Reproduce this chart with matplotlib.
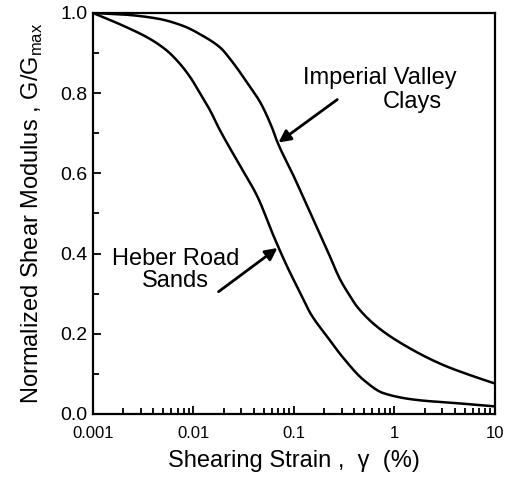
import matplotlib.pyplot as plt
import numpy as np
from matplotlib.ticker import LogLocator, FixedLocator, MultipleLocator

plt.rcParams['font.family'] = ['Liberation Sans', 'DejaVu Sans']

# curves (strain in %, G/Gmax)
clay_strain = [0.001, 0.00205, 0.00438, 0.00805, 0.0118, 0.0186, 0.0234, 0.0343, 0.0465,
               0.0608, 0.068, 0.0995, 0.146, 0.214, 0.289, 0.364, 0.424, 0.67, 1.33,
               3.07, 5.65, 10]
clay_ratio = [1.0, 0.996, 0.986, 0.967, 0.946, 0.913, 0.884, 0.826, 0.776,
              0.713, 0.680, 0.593, 0.501, 0.409, 0.335, 0.293, 0.268, 0.218, 0.168,
              0.122, 0.097, 0.076]

sand_strain = [0.001, 0.00205, 0.00377, 0.00551, 0.00747, 0.0094, 0.0118, 0.0148, 0.0179,
               0.0294, 0.0432, 0.063, 0.0855, 0.1205, 0.146, 0.214, 0.312, 0.493, 0.778,
               1.67, 4.16, 10]
sand_ratio = [1.0, 0.967, 0.934, 0.905, 0.871, 0.838, 0.797, 0.755, 0.713,
              0.617, 0.543, 0.443, 0.368, 0.293, 0.251, 0.193, 0.139, 0.085, 0.052,
              0.035, 0.027, 0.019]

x_ticks = [0.001, 0.01, 0.1, 1, 10]
x_ticklabels = ['0.001', '0.01', '0.1', '1', '10']
y_ticks = [0.0, 0.2, 0.4, 0.6, 0.8, 1.0]
y_ticklabels = ['0.0', '0.2', '0.4', '0.6', '0.8', '1.0']


def pchip(xs, ys, n=400):
    # monotone cubic through the read points, in log-strain
    x = np.log10(xs)
    y = np.asarray(ys, float)
    h = np.diff(x)
    d = np.diff(y) / h
    m = np.zeros_like(y)
    for k in range(1, len(y) - 1):
        if d[k - 1] * d[k] > 0:
            w1 = 2 * h[k] + h[k - 1]
            w2 = h[k] + 2 * h[k - 1]
            m[k] = (w1 + w2) / (w1 / d[k - 1] + w2 / d[k])
    m[0], m[-1] = d[0], d[-1]
    g = np.linspace(x[0], x[-1], n)
    i = np.clip(np.searchsorted(x, g) - 1, 0, len(h) - 1)
    t = (g - x[i]) / h[i]
    out = ((2 * t**3 - 3 * t**2 + 1) * y[i] + (t**3 - 2 * t**2 + t) * h[i] * m[i]
           + (-2 * t**3 + 3 * t**2) * y[i + 1] + (t**3 - t**2) * h[i] * m[i + 1])
    return 10 ** g, out


fig = plt.figure(figsize=(5.05, 4.8), dpi=100)
ax = fig.add_axes([0.184, 0.1375, 0.796, 0.8355])

cx, cy = pchip(clay_strain, clay_ratio)
sx, sy = pchip(sand_strain, sand_ratio)
ax.plot(cx, cy, color='black', lw=1.8)
ax.plot(sx, sy, color='black', lw=1.8)

ax.set_xscale('log')
ax.set_xlim(0.001, 10)
ax.set_ylim(0, 1.0)

ax.xaxis.set_major_locator(FixedLocator(x_ticks))
ax.set_xticklabels(x_ticklabels)
ax.xaxis.set_minor_locator(LogLocator(base=10, subs=np.arange(2, 10)))
ax.xaxis.set_minor_formatter(plt.NullFormatter())
ax.set_yticks(y_ticks)
ax.set_yticklabels(y_ticklabels)
ax.yaxis.set_minor_locator(MultipleLocator(0.1))

ax.tick_params(which='both', direction='in', top=False, right=False, width=1.3)
ax.tick_params(which='major', length=6)
ax.tick_params(which='minor', length=4)
ax.tick_params(axis='x', labelsize=12, pad=9)
ax.tick_params(axis='y', labelsize=14, pad=4)
for s in ax.spines.values():
    s.set_linewidth(1.6)

ax.set_xlabel('Shearing Strain ,  γ  (%)', fontsize=17, labelpad=6)
ax.set_ylabel('Normalized Shear Modulus , G/G$_{\\mathregular{max}}$', fontsize=17, labelpad=11)

ax.text(0.723, 0.839, 'Imperial Valley', fontsize=17, ha='center', va='center')
ax.text(1.5, 0.777, 'Clays', fontsize=17, ha='center', va='center')
ax.text(0.00667, 0.36, 'Heber Road\nSands', fontsize=17, ha='center', va='center',
        linespacing=1.0)

arrow = dict(arrowstyle='-|>', lw=2, color='black', mutation_scale=18, shrinkA=0, shrinkB=0)
ax.annotate('', xy=(0.0702, 0.677), xytext=(0.27, 0.784), arrowprops=arrow)
ax.annotate('', xy=(0.0686, 0.414), xytext=(0.0178, 0.305), arrowprops=arrow)

fig.savefig('out.png', dpi=100)
